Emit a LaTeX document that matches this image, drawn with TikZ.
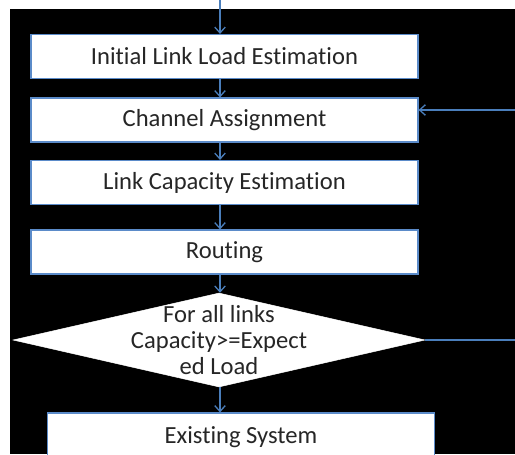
\documentclass[tikz,border=0pt]{standalone}
\usepackage{fontspec}
\setmainfont{Carlito}[Ligatures=NoCommon]
\usetikzlibrary{shapes.geometric,arrows.meta}
\definecolor{boxline}{HTML}{5B8BC9}
\definecolor{flowline}{HTML}{4A7EBB}
\begin{document}
\begin{tikzpicture}[x=0.03cm, y=-0.03cm,
  box/.style={draw=boxline, line width=1pt, fill=white, minimum width=11.61cm, minimum height=1.32cm, inner sep=0pt, text=black!85, font=\fontsize{21}{21}\selectfont},
  decision/.style={diamond, draw=white, fill=white, minimum width=12.36cm, minimum height=2.82cm, inner sep=0pt},
  flow/.style={draw=flowline, line width=1.1pt, -{Straight Barb[length=5pt, width=9pt]}}]
\useasboundingbox (0,0) rectangle (515,454);
\fill[white] (0,0) rectangle (515,454);
\fill[black] (10,9) rectangle (515,454);

\coordinate (top) at (220,0);
\coordinate (back) at (540,110);

\node[box] (init) at (224.5,56.5){Initial Link Load Estimation};
\node[box] (chan) at (224.5,120){Channel Assignment};
\node[box] (cap) at (224.5,182.5){Link Capacity Estimation};
\node[box] (rout) at (224.5,252){Routing};
\node[decision] (dec) at (219,340){};
\node[align=center, text=black!85, font=\fontsize{21}{22}\selectfont] (dectext) at (dec){For all links\\Capacity>=Expect\\ed Load};
\node[box, minimum height=1.44cm] (exist) at (241,437){Existing System};

\draw[flow] (top) -- (top |- init.north);
\draw[flow] (init.south -| top) -- (chan.north -| top);
\draw[flow] (chan.south -| top) -- (cap.north -| top);
\draw[flow] (cap.south -| top) -- (rout.north -| top);
\draw[flow] (rout.south -| top) -- (dec.north -| top);
\draw[flow] (dec.south -| top) -- (exist.north -| top);
\draw[flow] (dec.east) -| (back) -- (back -| chan.east);

\end{tikzpicture}
\end{document}
